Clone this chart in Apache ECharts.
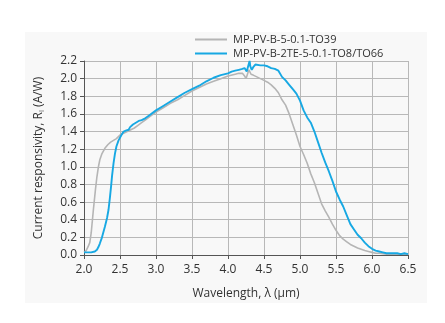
<!DOCTYPE html>
<html><head><meta charset="utf-8">
<script src="https://cdn.jsdelivr.net/npm/echarts@6/dist/echarts.min.js"></script>
<style>html,body{margin:0;padding:0;background:#fff}#c{width:445px;height:323px}</style>
</head><body><div id="c"></div>
<script>
const seriesNames = ['MP-PV-B-5-0.1-TO39', 'MP-PV-B-2TE-5-0.1-TO8/TO66'];
const xTicks = ['2.0','2.5','3.0','3.5','4.0','4.5','5.0','5.5','6.0','6.5'];
const grayX = [2.00,2.03,2.06,2.08,2.10,2.13,2.16,2.18,2.20,2.22,2.25,2.29,2.33,2.37,2.41,2.45,2.50,2.55,2.60,2.65,2.70,2.75,2.80,2.85,2.90,3.00,3.10,3.20,3.30,3.40,3.50,3.60,3.70,3.80,3.90,4.00,4.10,4.15,4.20,4.23,4.25,4.27,4.29,4.32,4.35,4.40,4.45,4.50,4.55,4.60,4.65,4.70,4.75,4.80,4.85,4.90,4.95,5.00,5.05,5.10,5.15,5.20,5.25,5.30,5.35,5.40,5.45,5.50,5.55,5.60,5.65,5.70,5.75,5.80,5.85,5.90,5.95,6.00,6.05,6.10,6.20,6.30,6.40,6.50];
const grayY = [0.03,0.05,0.10,0.14,0.25,0.51,0.75,0.89,1.00,1.08,1.15,1.21,1.25,1.28,1.30,1.32,1.36,1.38,1.40,1.42,1.44,1.47,1.50,1.53,1.56,1.62,1.67,1.72,1.76,1.81,1.86,1.90,1.94,1.97,2.00,2.03,2.05,2.06,2.06,2.03,2.00,2.05,2.10,2.05,2.04,2.02,2.00,1.98,1.96,1.93,1.89,1.84,1.76,1.70,1.60,1.48,1.36,1.23,1.14,1.04,0.92,0.82,0.70,0.58,0.50,0.43,0.35,0.28,0.22,0.18,0.15,0.12,0.10,0.08,0.065,0.05,0.04,0.03,0.02,0.02,0.01,0.01,0.01,0.01];
const blueX = [2.00,2.05,2.10,2.15,2.18,2.20,2.22,2.25,2.29,2.32,2.34,2.36,2.375,2.39,2.41,2.43,2.45,2.48,2.52,2.55,2.58,2.60,2.62,2.64,2.66,2.68,2.70,2.72,2.74,2.76,2.78,2.80,2.82,2.85,2.90,3.00,3.10,3.20,3.30,3.40,3.50,3.60,3.70,3.80,3.90,4.00,4.05,4.10,4.15,4.20,4.23,4.26,4.28,4.30,4.31,4.33,4.35,4.38,4.40,4.45,4.50,4.55,4.60,4.65,4.70,4.75,4.80,4.85,4.90,4.95,5.00,5.05,5.10,5.15,5.20,5.25,5.30,5.35,5.40,5.45,5.50,5.55,5.60,5.65,5.70,5.75,5.80,5.85,5.90,5.95,6.00,6.05,6.10,6.15,6.20,6.25,6.30,6.35,6.40,6.45,6.50];
const blueY = [0.03,0.03,0.03,0.04,0.06,0.09,0.13,0.20,0.32,0.42,0.51,0.65,0.77,0.90,1.04,1.15,1.23,1.30,1.36,1.40,1.41,1.43,1.42,1.45,1.44,1.48,1.46,1.50,1.48,1.52,1.50,1.53,1.53,1.55,1.58,1.64,1.69,1.74,1.79,1.84,1.88,1.92,1.97,2.01,2.04,2.06,2.08,2.09,2.10,2.11,2.12,2.08,2.10,2.20,2.14,2.10,2.13,2.16,2.16,2.15,2.15,2.14,2.12,2.11,2.09,2.02,1.98,1.93,1.88,1.83,1.75,1.64,1.56,1.50,1.40,1.28,1.16,1.05,0.95,0.84,0.72,0.63,0.55,0.45,0.35,0.29,0.23,0.19,0.14,0.10,0.07,0.05,0.04,0.03,0.02,0.02,0.02,0.02,0.01,0.02,0.01];

const FONT = 'Open Sans';
const chart = echarts.init(document.getElementById('c'), null, {renderer:'canvas'});
chart.setOption({
  animation: false,
  backgroundColor: '#fff',
  graphic: [{type:'rect', shape:{x:25,y:32,width:402,height:271}, style:{fill:'#f8f8f8'}, z:-10, silent:true}],
  grid: {left:84, right:37, top:61, bottom:68},
  legend: {
    orient:'vertical', left:190, top:29, itemWidth:32, itemHeight:2, itemGap:3,
    icon:'rect',
    textStyle:{fontFamily:FONT, fontSize:11, color:'#333', padding:[0,0,0,1]},
    data: seriesNames
  },
  xAxis: {
    type:'value', min:2, max:6.5, interval:0.5,
    name:'Wavelength, λ (µm)', nameLocation:'middle', nameGap:33,
    nameTextStyle:{fontFamily:FONT, fontSize:12, color:'#333'},
    axisLine:{show:true, lineStyle:{color:'#555', width:1}},
    axisTick:{show:true, length:4, lineStyle:{color:'#555'}},
    axisLabel:{fontFamily:FONT, fontSize:12, color:'#333', margin:9, formatter:(v,i)=>xTicks[i]!==undefined?xTicks[i]:v.toFixed(1)},
    splitLine:{show:true, lineStyle:{color:'#b8b8b8', width:1}}
  },
  yAxis: {
    type:'value', min:0, max:2.2, interval:0.2,
    name:'Current responsivity, R{s|i} (A/W)', nameLocation:'middle', nameGap:38,
    nameTextStyle:{fontFamily:FONT, fontSize:12, color:'#333', rich:{s:{fontFamily:FONT, fontSize:8, color:'#333', verticalAlign:'bottom', padding:[6,0,0,0]}}},
    axisLine:{show:true, lineStyle:{color:'#555', width:1}},
    axisTick:{show:true, length:4, lineStyle:{color:'#555'}},
    axisLabel:{fontFamily:FONT, fontSize:12, color:'#333', margin:7, formatter:v=>v.toFixed(1)},
    splitLine:{show:true, lineStyle:{color:'#b8b8b8', width:1}}
  },
  series: [
    {name:seriesNames[0], type:'line', showSymbol:false, symbol:'none', data:grayX.map((x,i)=>[x,grayY[i]]),
     lineStyle:{color:'#b5b5b5', width:1.6}, itemStyle:{color:'#b5b5b5'}, z:2},
    {name:seriesNames[1], type:'line', showSymbol:false, symbol:'none', data:blueX.map((x,i)=>[x,blueY[i]]),
     lineStyle:{color:'#17a8e3', width:1.9}, itemStyle:{color:'#17a8e3'}, z:3}
  ]
});
</script></body></html>
